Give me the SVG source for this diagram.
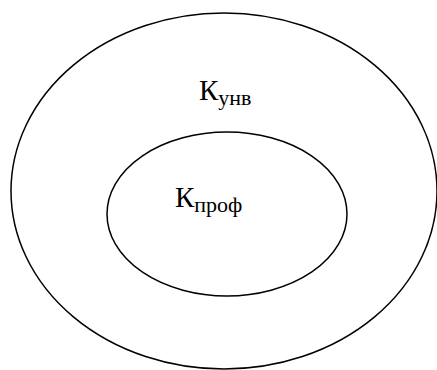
<svg xmlns="http://www.w3.org/2000/svg" width="437" height="370" viewBox="0 0 437 370">
<style>
.e{fill:none;stroke:#000;stroke-width:1.5}
.t{font-family:"Liberation Serif","Times New Roman",serif;font-size:29px;fill:#000}
.s{font-size:22px}
</style>
<rect width="437" height="370" fill="#fff"/>
<g id="outer">
<ellipse class="e" cx="224" cy="191" rx="213" ry="178"/>
<text class="t" x="199" y="100">К<tspan class="s" dy="4.5">унв</tspan></text>
</g>
<g id="inner">
<ellipse class="e" cx="227" cy="214" rx="120" ry="82"/>
<text class="t" x="175" y="207">К<tspan class="s" dy="4.5">проф</tspan></text>
</g>
<g id="connectors"/>
</svg>
